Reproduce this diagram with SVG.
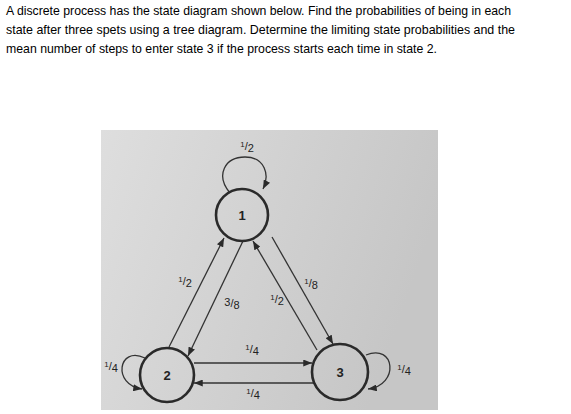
<svg xmlns="http://www.w3.org/2000/svg" width="571" height="414" viewBox="0 0 571 414">
<defs>
<linearGradient id="bg" x1="0" y1="0" x2="1" y2="0.3">
<stop offset="0" stop-color="#dedede"/>
<stop offset="0.5" stop-color="#d2d2d2"/>
<stop offset="1" stop-color="#c6c6c6"/>
</linearGradient>
<marker id="ah" viewBox="0 0 10 8" refX="10" refY="4" markerWidth="9" markerHeight="7" markerUnits="userSpaceOnUse" orient="auto">
<path d="M0,0 L10,4 L0,8 Z" fill="#2a2a2a"/>
</marker>
<style>
.q{font-family:"Liberation Sans",Arial,sans-serif;font-size:13px;fill:#000}
.node{fill:none;stroke:#2a2a2a;stroke-width:2.6}
.nl{font-family:"Liberation Sans",Arial,sans-serif;font-size:13px;font-weight:bold;fill:#222;text-anchor:middle}
.e{fill:none;stroke:#333;stroke-width:1.3;marker-end:url(#ah)}
.f{font-family:"Liberation Sans",Arial,sans-serif;font-size:11px;fill:#222;text-anchor:middle}
.s{font-size:8px}
</style>
</defs>
<rect width="571" height="414" fill="#fff"/>
<text class="q" x="6" y="15" textLength="505" lengthAdjust="spacingAndGlyphs">A discrete process has the state diagram shown below. Find the probabilities of being in each</text>
<text class="q" x="6" y="34" textLength="509" lengthAdjust="spacingAndGlyphs">state after three spets using a tree diagram. Determine the limiting state probabilities and the</text>
<text class="q" x="6" y="53" textLength="431" lengthAdjust="spacingAndGlyphs">mean number of steps to enter state 3 if the process starts each time in state 2.</text>
<rect x="101" y="130" width="337" height="280" fill="url(#bg)"/>
<g id="connectors">
<path class="e" d="M230,193 C215,175 225,157 245,157 C265,157 270,175 263,189"/>
<path class="e" d="M169,347 L224,238"/>
<path class="e" d="M243,241 L188,356"/>
<path class="e" d="M317,350 L253,241"/>
<path class="e" d="M272,237 L333,344"/>
<path class="e" d="M194,363 L312,363"/>
<path class="e" d="M314,383 L194,383"/>
<path class="e" d="M145,358 C118,345 112,385 142,389"/>
<path class="e" d="M366,355 C395,343 400,385 368,389"/>
</g>
<g id="labels">
<text class="f" x="247" y="150"><tspan class="s" dy="-3">1</tspan><tspan dy="3">/</tspan><tspan dy="2">2</tspan></text>
<text class="f" x="185" y="285"><tspan class="s" dy="-3">1</tspan><tspan dy="3">/</tspan><tspan dy="2">2</tspan></text>
<text class="f" x="232" y="307"><tspan dy="-1">3</tspan><tspan dy="1">/</tspan><tspan dy="2">8</tspan></text>
<text class="f" x="277" y="303"><tspan class="s" dy="-3">1</tspan><tspan dy="3">/</tspan><tspan dy="2">2</tspan></text>
<text class="f" x="311" y="287"><tspan class="s" dy="-3">1</tspan><tspan dy="3">/</tspan><tspan dy="2">8</tspan></text>
<text class="f" x="252" y="353"><tspan class="s" dy="-3">1</tspan><tspan dy="3">/</tspan><tspan dy="2">4</tspan></text>
<text class="f" x="253" y="397"><tspan class="s" dy="-3">1</tspan><tspan dy="3">/</tspan><tspan dy="2">4</tspan></text>
<text class="f" x="111" y="370"><tspan class="s" dy="-3">1</tspan><tspan dy="3">/</tspan><tspan dy="2">4</tspan></text>
<text class="f" x="404" y="373"><tspan class="s" dy="-3">1</tspan><tspan dy="3">/</tspan><tspan dy="2">4</tspan></text>
</g>
<g id="node1"><circle class="node" cx="242" cy="215" r="26"/><text class="nl" x="242" y="220">1</text></g>
<g id="node2"><circle class="node" cx="167" cy="375" r="27"/><text class="nl" x="167" y="380">2</text></g>
<g id="node3"><circle class="node" cx="340" cy="372" r="28"/><text class="nl" x="340" y="377">3</text></g>
</svg>
